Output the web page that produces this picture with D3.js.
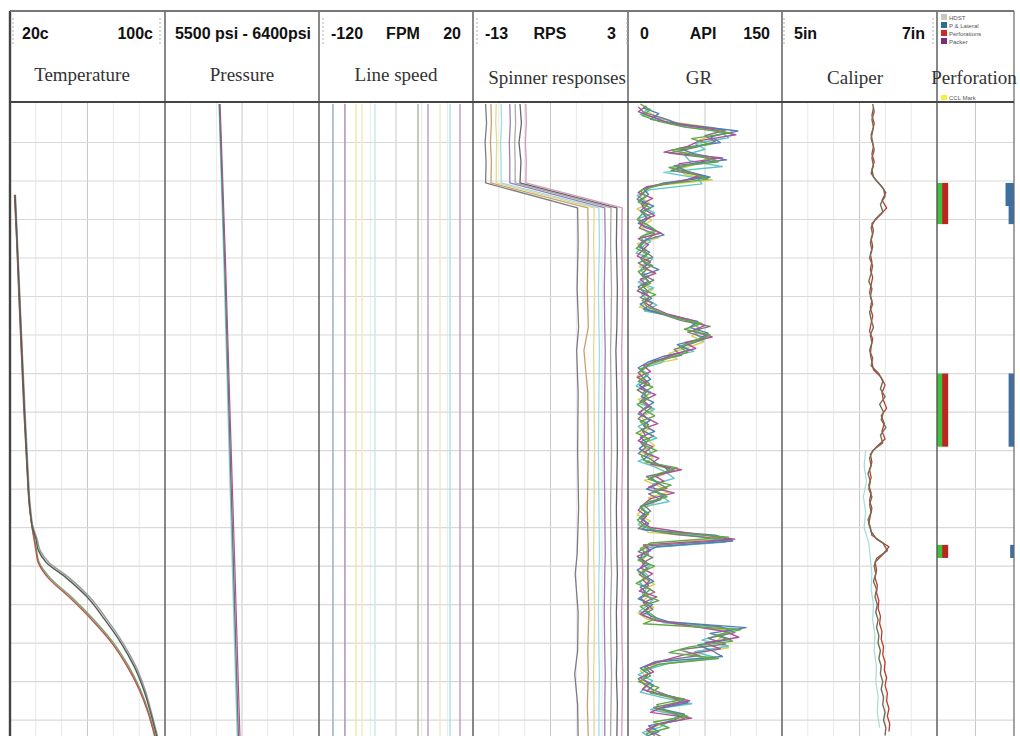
<!DOCTYPE html>
<html>
<head>
<meta charset="utf-8">
<script src="https://cdn.jsdelivr.net/npm/d3@7"></script>
<style>
  body { margin: 0; background: #fff; }
  svg { display: block; }
</style>
</head>
<body>
<svg id="log" width="1020" height="736"></svg>
<script>
// ---------------- track definitions ----------------
const trackTitles = ["Temperature", "Pressure", "Line speed", "Spinner responses", "GR", "Caliper", "Perforation"];
const scaleLeftLabels  = ["20c", "", "-120", "-13", "0", "5in", ""];
const scaleMidLabels   = ["", "5500 psi - 6400psi", "FPM", "RPS", "API", "", ""];
const scaleRightLabels = ["100c", "", "20", "3", "150", "7in", ""];
const trackDomains = [[20, 100], [5500, 6400], [-120, 20], [-13, 3], [0, 150], [5, 7], [0, 1]];

// ---------------- Temperature (deg C) ----------------
const tempDepth = [23.6, 35, 50, 65, 80, 95, 105, 110, 113, 116, 119, 123, 128, 134, 140, 146, 152, 158, 164.5];
const tempPassA = [22.6, 23.6, 24.9, 26.2, 27.5, 29.0, 30.3, 31.6, 33.4, 34.7, 38.6, 48.9, 59.7, 69.0, 77.3, 84.0, 88.9, 92.5, 95.9];
const tempPassB = [22.3, 23.4, 24.6, 25.9, 27.2, 28.8, 30.1, 31.4, 32.4, 33.4, 34.5, 39.6, 50.4, 62.3, 72.6, 80.4, 86.6, 91.2, 94.8];
const tempPassC = [22.8, 23.8, 25.1, 26.4, 27.8, 29.3, 30.6, 32.0, 34.0, 35.6, 40.0, 50.5, 61.0, 70.2, 78.3, 84.9, 89.6, 93.0, 96.3];
const tempPassD = [22.4, 23.5, 24.7, 26.0, 27.4, 28.9, 30.2, 31.5, 32.6, 33.7, 35.0, 40.6, 51.6, 63.4, 73.5, 81.2, 87.2, 91.6, 95.2];

// ---------------- Pressure (psi) ----------------
const pressDepth = [0, 40, 80, 120, 164.4];
const pressGray    = [5818, 5848, 5874, 5900, 5929];
const pressMagenta = [5822, 5853, 5880, 5908, 5938];
const pressCyan    = [5815, 5843, 5868, 5893, 5922];

// ---------------- Line speed (ft/min), one constant per pass ----------------
const lineSpeeds      = [-107.3, -96.4, -86.4, -80.9, -69.1, -30.0, -20.9, -10.0, -0.9, 8.2];
const lineSpeedColors = ["#95a8c4", "#aa8cbc", "#f0e6a8", "#f2e9b4", "#c4e9f0", "#a6b49f", "#b898c8", "#f1eabb", "#addeeb", "#c895bb"];

// ---------------- Spinner (rps) ----------------
const spinDepth = [0, 5, 10, 15, 20.5, 27, 36, 48, 58, 64, 75, 90, 105, 117, 122, 132, 142, 148, 156, 164.5];
const spin1 = [-11.7, -11.6, -11.75, -11.65, -11.7, -2.2, -2.15, -2.25, -2.1, -2.3, -2.15, -2.2, -2.1, -2.25, -2.45, -2.15, -2.2, -2.5, -2.2, -2.15];
const spin2 = [-11.15, -11.1, -11.2, -11.1, -11.15, -1.15, -1.1, -1.2, -1.1, -1.55, -1.15, -1.1, -1.2, -1.1, -1.15, -1.05, -1.15, -1.1, -1.2, -1.1];
const spin3 = [-10.6, -10.65, -10.55, -10.6, -10.6, -0.5, -0.55, -0.45, -0.5, -0.55, -0.5, -0.45, -0.5, -0.55, -0.5, -0.45, -0.5, -0.55, -0.5, -0.5];
const spin4 = [-10.1, -10.05, -10.15, -10.1, -10.1, 0.0, 0.05, -0.05, 0.0, 0.05, 0.0, -0.05, 0.0, 0.05, 0.0, -0.05, 0.0, 0.05, 0.0, 0.0];
const spin5 = [-9.2, -9.15, -9.25, -9.2, -9.2, 0.6, 0.65, 0.55, 0.6, 0.65, 0.6, 0.55, 0.6, 0.65, 0.6, 0.55, 0.6, 0.65, 0.6, 0.6];
const spin6 = [-8.65, -8.6, -8.7, -8.65, -8.65, 1.25, 1.2, 1.3, 1.25, 1.2, 1.25, 1.3, 1.2, 1.25, 1.3, 1.2, 1.25, 1.3, 1.25, 1.2];
const spin7 = [-8.15, -8.0, -8.25, -8.05, -8.15, 1.85, 1.8, 1.9, 1.85, 1.75, 1.85, 1.9, 1.8, 1.85, 1.9, 1.8, 1.85, 1.8, 1.9, 1.85];
const spin8 = [-7.55, -7.5, -7.6, -7.5, -7.55, 2.4, 2.35, 2.45, 2.4, 2.35, 2.4, 2.45, 2.35, 2.4, 2.45, 2.35, 2.4, 2.45, 2.4, 2.35];
const spinColors = ["#7c7c7c", "#c8a070", "#e6d98a", "#9fdde6", "#9a80b8", "#aaaaaa", "#666666", "#d49ab8"];

// ---------------- Gamma ray (API), sampled every 1.5 depth units ----------------
const GR_STEP = 1.5;
const grGreen = [12, 22, 14, 30, 55, 100, 62, 80, 42, 70,
  88, 40, 62, 78, 30, 12, 18, 10, 22, 14,
  9, 20, 28, 12, 16, 8, 19, 13, 24, 10,
  15, 22, 11, 27, 14, 18, 30, 45, 72, 55,
  80, 65, 50, 58, 40, 22, 12, 18, 10, 24,
  14, 20, 9, 17, 26, 12, 19, 8, 21, 15,
  28, 13, 18, 48, 30, 20, 42, 25, 38, 18,
  12, 20, 9, 15, 30, 98, 22, 12, 20, 10,
  26, 14, 18, 8, 22, 15, 30, 12, 20, 28,
  15, 110, 85, 102, 60, 40, 88, 30, 15, 22,
  10, 30, 22, 55, 28, 35, 58, 25, 40, 18, 22];
const grMagenta = [18, 10, 25, 40, 80, 105, 70, 58, 35, 92,
  50, 48, 70, 55, 18, 10, 24, 13, 17, 26,
  11, 16, 32, 10, 20, 14, 9, 22, 15, 27,
  12, 18, 9, 21, 16, 25, 38, 60, 75, 62,
  82, 55, 66, 45, 30, 15, 22, 9, 18, 12,
  27, 15, 21, 11, 18, 29, 13, 17, 10, 24,
  16, 30, 22, 52, 26, 35, 20, 45, 22, 15,
  10, 18, 13, 22, 60, 104, 15, 22, 9, 17,
  12, 24, 14, 20, 11, 28, 15, 20, 12, 25,
  60, 95, 108, 75, 90, 55, 35, 18, 25, 12,
  20, 14, 32, 60, 35, 22, 62, 30, 18, 26];
const grBlue = [15, 30, 22, 60, 107, 80, 90, 50, 65, 96,
  45, 58, 80, 35, 15, 20, 11, 25, 13, 18,
  10, 24, 35, 15, 10, 21, 12, 17, 30, 14,
  20, 10, 16, 23, 12, 20, 42, 68, 60, 78,
  70, 48, 60, 35, 20, 10, 16, 22, 11, 19,
  13, 25, 16, 10, 22, 15, 26, 12, 18, 11,
  20, 15, 35, 40, 22, 30, 18, 36, 28, 12,
  17, 11, 20, 14, 85, 102, 28, 15, 12, 20,
  9, 16, 25, 12, 18, 10, 24, 16, 22, 40,
  115, 80, 100, 68, 82, 92, 25, 12, 20, 15,
  25, 18, 45, 58, 30, 55, 45, 20, 30, 15];
const grGray = [10, 16, 35, 50, 95, 75, 85, 66, 40, 85,
  60, 42, 75, 45, 20, 14, 9, 19, 12, 22,
  15, 11, 26, 18, 12, 16, 24, 10, 19, 13,
  25, 14, 20, 12, 24, 15, 35, 52, 80, 58,
  76, 62, 45, 52, 25, 18, 10, 15, 21, 9,
  18, 12, 23, 16, 10, 20, 14, 25, 12, 17,
  10, 22, 30, 45, 18, 28, 38, 20, 32, 16,
  22, 13, 18, 10, 45, 100, 20, 10, 24, 14,
  19, 11, 21, 16, 26, 12, 18, 24, 14, 30,
  90, 104, 78, 95, 50, 70, 28, 16, 22, 10,
  16, 25, 40, 52, 25, 45, 55, 28, 20, 32];
const grYellow = [14, 18, 28, 45, 85, 90, 70, 72, 48, 78,
  70, 52, 55, 82, 25, 16, 12, 21, 9, 17,
  23, 13, 18, 30, 9, 18, 14, 21, 11, 26,
  17, 12, 24, 15, 20, 11, 33, 55, 65, 70,
  62, 74, 58, 40, 48, 20, 14, 9, 20, 13,
  22, 10, 18, 24, 13, 17, 22, 11, 19, 26,
  12, 25, 16, 40, 35, 16, 30, 40, 20, 25,
  14, 9, 22, 12, 20, 90, 35, 14, 18, 13,
  21, 10, 15, 26, 12, 20, 14, 25, 10, 18,
  50, 100, 92, 85, 98, 62, 75, 20, 12, 18,
  13, 20, 28, 48, 40, 30, 60, 35, 22, 28];
const grCyan = [20, 12, 40, 52, 90, 98, 65, 75, 55, 60,
  92, 35, 68, 72, 22, 9, 16, 14, 26, 10,
  18, 26, 14, 22, 13, 8, 24, 16, 12, 20,
  10, 25, 13, 18, 28, 16, 48, 62, 70, 66,
  74, 52, 64, 38, 32, 12, 20, 14, 8, 22,
  16, 11, 26, 14, 21, 10, 17, 28, 13, 20,
  24, 10, 26, 38, 45, 24, 26, 32, 40, 12,
  20, 15, 10, 24, 70, 95, 18, 20, 10, 22,
  15, 20, 11, 18, 14, 24, 19, 11, 26, 35,
  105, 90, 72, 98, 65, 85, 40, 20, 10, 24,
  18, 12, 35, 62, 22, 50, 40, 32, 14, 24];

// ---------------- Caliper (in) ----------------
const calA = [6.17, 6.19, 6.16, 6.18, 6.15, 6.17, 6.19, 6.16, 6.18, 6.15,
  6.22, 6.31, 6.33, 6.27, 6.30, 6.20, 6.15, 6.17, 6.14, 6.16,
  6.13, 6.17, 6.15, 6.12, 6.16, 6.14, 6.17, 6.13, 6.15, 6.18,
  6.14, 6.16, 6.13, 6.17, 6.15, 6.25, 6.30, 6.27, 6.33, 6.26,
  6.31, 6.28, 6.34, 6.27, 6.30, 6.17, 6.13, 6.15, 6.11, 6.14,
  6.12, 6.16, 6.13, 6.15, 6.11, 6.14, 6.16, 6.30, 6.36, 6.22,
  6.19, 6.21, 6.18, 6.22, 6.20, 6.23, 6.21, 6.24, 6.22, 6.25,
  6.24, 6.27, 6.25, 6.28, 6.27, 6.30, 6.28, 6.31, 6.30, 6.33,
  6.31, 6.34, 6.33];
const calB = [6.18, 6.16, 6.19, 6.17, 6.15, 6.18, 6.16, 6.19, 6.16, 6.18,
  6.27, 6.34, 6.29, 6.35, 6.26, 6.16, 6.18, 6.15, 6.17, 6.14,
  6.16, 6.14, 6.17, 6.15, 6.13, 6.16, 6.14, 6.17, 6.15, 6.13,
  6.17, 6.15, 6.14, 6.16, 6.18, 6.28, 6.33, 6.29, 6.31, 6.35,
  6.28, 6.32, 6.29, 6.33, 6.22, 6.14, 6.16, 6.13, 6.15, 6.12,
  6.15, 6.13, 6.16, 6.14, 6.12, 6.15, 6.22, 6.38, 6.30, 6.20,
  6.22, 6.20, 6.23, 6.22, 6.25, 6.24, 6.27, 6.26, 6.29, 6.28,
  6.31, 6.30, 6.33, 6.32, 6.35, 6.33, 6.36, 6.35, 6.38, 6.36,
  6.39, 6.38];
const calCDepth = [90, 94, 98, 102, 106, 110, 114, 118, 122, 126, 130, 134, 138, 142, 146, 150, 154, 158, 162];
const calC = [6.08, 6.06, 6.09, 6.05, 6.08, 6.06, 6.12, 6.14, 6.16, 6.15, 6.18, 6.17, 6.20, 6.19, 6.22, 6.21, 6.24, 6.23, 6.26];

// ---------------- Perforation / packer intervals (depth) ----------------
const perfTops    = [20.5, 70.0, 114.5];
const perfBottoms = [31.2, 89.0, 117.9];
const packerTops    = [20.5, 26.5, 70.0, 114.5];
const packerBottoms = [26.5, 31.2, 89.0, 117.9];
const packerFrom    = [0.89, 0.93, 0.93, 0.95];

const legendNames  = ["HDST", "P & Lateral", "Perforations", "Packer"];
const legendColors = ["#c9c9b4", "#2e6e8e", "#d02828", "#7b2d7b"];

// ---------------- layout ----------------
const svg = d3.select("#log");
const edges = [10, 165, 319, 473, 628, 782, 937, 1014];
const headTop = 11, headBottom = 102, plotTop = 103, plotBottom = 736;
const titleCenters = [82, 242, 396, 557, 699, 855, 974];
const midLabelCenters = [0, 243, 403, 550, 703, 0, 0];

svg.append("rect").attr("width", 1020).attr("height", 736).attr("fill", "#fff");

const y = d3.scaleLinear().domain([0, 164.4]).range([104, 737]);
const xs = trackDomains.map((dom, i) => d3.scaleLinear().domain(dom).range([edges[i], edges[i + 1]]));

const defs = svg.append("defs");
edges.slice(0, -1).forEach((x0, i) => {
  defs.append("clipPath").attr("id", "clip" + i)
    .append("rect").attr("x", x0).attr("y", plotTop)
    .attr("width", edges[i + 1] - x0).attr("height", plotBottom - plotTop);
});

// ---------------- grid ----------------
const grid = svg.append("g");
const gridDepths = d3.range(10, 165, 10);
trackDomains.forEach((dom, t) => {
  const n = t < 6 ? 6 : 2;
  for (let k = 1; k < n; k++) {
    const gx = xs[t](dom[0] + (dom[1] - dom[0]) * k / n);
    grid.append("line")
      .attr("x1", gx).attr("x2", gx).attr("y1", plotTop).attr("y2", plotBottom)
      .attr("stroke", (k * 2 === n) ? "#c8c8c8" : "#e8e8e8").attr("stroke-width", 1);
  }
});
gridDepths.forEach(d => {
  grid.append("line")
    .attr("x1", edges[0]).attr("x2", edges[7]).attr("y1", y(d)).attr("y2", y(d))
    .attr("stroke", "#ddd7d7").attr("stroke-width", 1.2);
});

// ---------------- curve helpers ----------------
function drawCurve(track, depths, values, color, width, curve) {
  const pts = values.map((v, i) => ({ d: depths[i], v: v }));
  svg.append("path")
    .attr("clip-path", "url(#clip" + track + ")")
    .attr("d", d3.line().x(p => xs[track](p.v)).y(p => y(p.d)).curve(curve || d3.curveLinear)(pts))
    .attr("fill", "none").attr("stroke", color).attr("stroke-width", width)
    .attr("stroke-linejoin", "round");
}
const stepDepths = (n, offset, step) => d3.range(n).map(i => offset + i * step);

// Temperature
drawCurve(0, tempDepth, tempPassD, "#6aa86a", 1.4, d3.curveMonotoneY);
drawCurve(0, tempDepth, tempPassB, "#c0504d", 1.4, d3.curveMonotoneY);
drawCurve(0, tempDepth, tempPassC, "#9a9a9a", 1.4, d3.curveMonotoneY);
drawCurve(0, tempDepth, tempPassA, "#4f5f55", 1.4, d3.curveMonotoneY);

// Pressure
drawCurve(1, pressDepth, pressCyan, "#7fd6d6", 1.2, d3.curveMonotoneY);
drawCurve(1, pressDepth, pressMagenta, "#b0509a", 1.2, d3.curveMonotoneY);
drawCurve(1, pressDepth, pressGray, "#707070", 1.4, d3.curveMonotoneY);

// Line speed: each pass is logged at constant cable speed
lineSpeeds.forEach((s, i) => {
  drawCurve(2, [0, 164.4], [s, s], lineSpeedColors[i], 1.4);
});

// Spinner
[spin1, spin2, spin3, spin4, spin5, spin6, spin7, spin8].forEach((vals, i) => {
  drawCurve(3, spinDepth, vals, spinColors[i], 1.3);
});

// Gamma ray, one curve per logging pass
[[grYellow, 0.25, "#d9cf55"], [grCyan, 1.25, "#5cc6c6"], [grGray, 0.75, "#7d7d7d"],
 [grBlue, 1.0, "#4f7fb5"], [grMagenta, 0.5, "#b0509a"], [grGreen, 0.0, "#5fa845"]]
  .forEach(([vals, off, col]) => {
    drawCurve(4, stepDepths(vals.length, off, GR_STEP), vals, col, 1.4);
  });

// Caliper
drawCurve(5, calCDepth, calC, "#a6dcd2", 1.2);
drawCurve(5, stepDepths(calB.length, 1, 2), calB, "#c0392b", 1.3);
drawCurve(5, stepDepths(calA.length, 0, 2), calA, "#6f6f58", 1.4);

// Perforations: green/red flag bars on the left, packers in blue on the right
const perfG = svg.append("g").attr("clip-path", "url(#clip6)");
perfTops.forEach((top, i) => {
  perfG.append("rect").attr("x", xs[6](0)).attr("y", y(top))
    .attr("width", xs[6](0.066) - xs[6](0)).attr("height", y(perfBottoms[i]) - y(top))
    .attr("fill", "#3cc23c");
  perfG.append("rect").attr("x", xs[6](0.066)).attr("y", y(top))
    .attr("width", xs[6](0.145) - xs[6](0.066)).attr("height", y(perfBottoms[i]) - y(top))
    .attr("fill", "#b8281e");
});
packerTops.forEach((top, i) => {
  perfG.append("rect").attr("x", xs[6](packerFrom[i])).attr("y", y(top))
    .attr("width", xs[6](1) - xs[6](packerFrom[i])).attr("height", y(packerBottoms[i]) - y(top))
    .attr("fill", "#3f6f9f");
});

// ---------------- frame ----------------
const frame = svg.append("g");
edges.slice(1, -1).forEach(x => {
  frame.append("line").attr("x1", x).attr("x2", x).attr("y1", headTop).attr("y2", plotBottom)
    .attr("stroke", "#555").attr("stroke-width", 1.4);
});
frame.append("line").attr("x1", edges[0]).attr("x2", edges[0]).attr("y1", headTop).attr("y2", plotBottom)
  .attr("stroke", "#444").attr("stroke-width", 2.4);
frame.append("line").attr("x1", edges[7]).attr("x2", edges[7]).attr("y1", headTop).attr("y2", plotBottom)
  .attr("stroke", "#666").attr("stroke-width", 1.2);
frame.append("line").attr("x1", edges[0]).attr("x2", edges[7]).attr("y1", headTop).attr("y2", headTop)
  .attr("stroke", "#777").attr("stroke-width", 2);
frame.append("line").attr("x1", edges[0]).attr("x2", edges[7]).attr("y1", headBottom).attr("y2", headBottom)
  .attr("stroke", "#444").attr("stroke-width", 2.2);

// faint dotted marks at the start of each scale cell
[13, 160, 323, 477, 627, 784, 933].forEach(x => {
  frame.append("line").attr("x1", x).attr("x2", x).attr("y1", 18).attr("y2", 46)
    .attr("stroke", "#b0b0b0").attr("stroke-width", 1).attr("stroke-dasharray", "2,2");
});

// ---------------- header text ----------------
const labelFont = "'Liberation Sans', Arial, sans-serif";
const titleFont = "'Liberation Serif', 'Times New Roman', serif";
const head = svg.append("g");
function scaleLabel(x, anchor, txt) {
  head.append("text").attr("x", x).attr("y", 39).attr("text-anchor", anchor)
    .attr("font-family", labelFont).attr("font-weight", "bold").attr("font-size", 16)
    .attr("fill", "#111").text(txt);
}
trackTitles.forEach((t, i) => {
  const x0 = edges[i], x1 = edges[i + 1];
  if (scaleLeftLabels[i]) scaleLabel(x0 + 12, "start", scaleLeftLabels[i]);
  if (scaleRightLabels[i]) scaleLabel(x1 - 12, "end", scaleRightLabels[i]);
  if (scaleMidLabels[i]) scaleLabel(midLabelCenters[i], "middle", scaleMidLabels[i]);
  head.append("text").attr("x", titleCenters[i]).attr("y", i < 3 ? 81 : 84)
    .attr("text-anchor", "middle")
    .attr("font-family", titleFont).attr("font-size", 19)
    .attr("fill", "#333").text(t);
});

// legend in the perforation header
const leg = svg.append("g");
legendNames.forEach((name, i) => {
  const ly = 14 + i * 8;
  leg.append("rect").attr("x", 941).attr("y", ly).attr("width", 6).attr("height", 6).attr("fill", legendColors[i]);
  leg.append("text").attr("x", 949).attr("y", ly + 5.5)
    .attr("font-family", "'Liberation Sans', sans-serif").attr("font-size", 6)
    .attr("fill", "#555").text(name);
});
leg.append("rect").attr("x", 941).attr("y", 95).attr("width", 6).attr("height", 5).attr("fill", "#f2f040");
leg.append("text").attr("x", 949).attr("y", 100)
  .attr("font-family", "'Liberation Sans', sans-serif").attr("font-size", 6)
  .attr("fill", "#555").text("CCL Mark");
</script>
</body>
</html>
